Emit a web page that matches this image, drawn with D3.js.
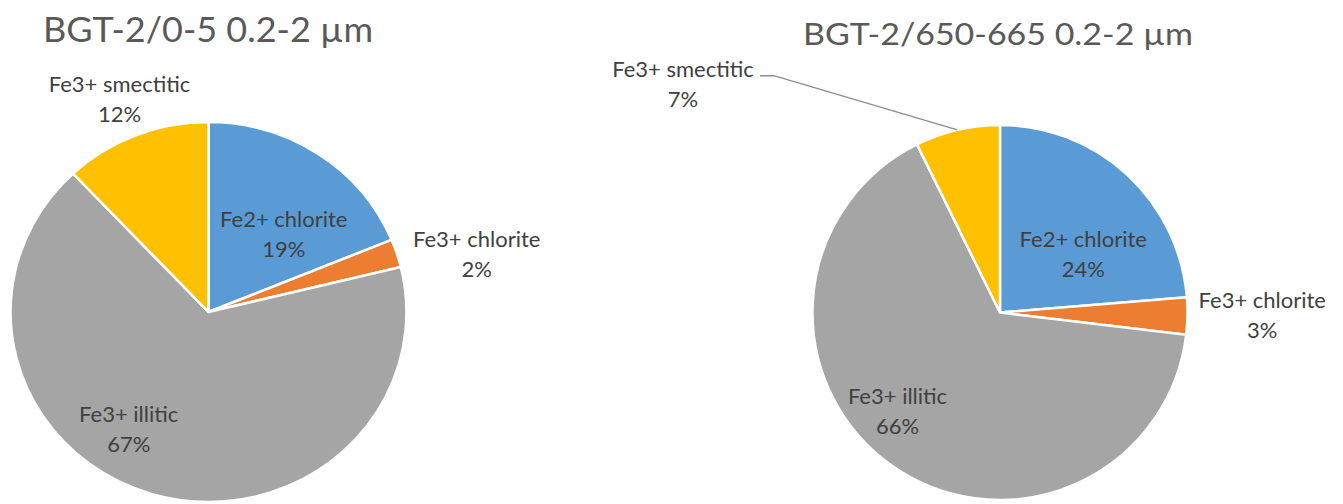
<!DOCTYPE html>
<html>
<head>
  <meta charset="utf-8">
  <title>Fe species pies</title>
  <script src="https://d3js.org/d3.v7.min.js"></script>
  <style>
    body { margin: 0; background: #fff; }
    svg { display: block; font-family: Lato, "Open Sans", sans-serif; }
    .title { fill: #595959; }
    .label { fill: #404040; font-size: 22px; }
    .leader { fill: none; stroke: #8c8c8c; stroke-width: 1.3px; }
  </style>
</head>
<body>
<div id="chart"></div>
<script>
// categories, same order in both pies (clockwise from 12 o'clock)
var categories = ["Fe2+ chlorite", "Fe3+ chlorite", "Fe3+ illitic", "Fe3+ smectitic"];
var colors = ["#5B9BD5", "#ED7D31", "#A5A5A5", "#FFC000"];

var titles = ["BGT-2/0-5 0.2-2 \u00b5m", "BGT-2/650-665 0.2-2 \u00b5m"];

// shares (%)
var values_0_5 = [18.8, 2.4, 66.8, 12.0];
var values_650_665 = [23.7, 3.2, 65.8, 7.3];

var width = 1343, height = 504;

var svg = d3.select("#chart").append("svg")
    .attr("width", width)
    .attr("height", height);

// layout of each panel; label placement is polar: turn (deg) off the slice middle, distance in radii
var panels = [
  { values: values_0_5, cx: 208.5, cy: 312, r: 190, sx: 1.042,
    title: { x: 43, y: 42, size: 35, len: 330 },
    turn: [12, 7, 15, -1], dist: [0.53, 1.38, 0.77, 1.17], leader: [false, false, false, false] },
  { values: values_650_665, cx: 1000, cy: 312.5, r: 187.5, sx: 1,
    title: { x: 803, y: 45, size: 30, len: 390 },
    turn: [16, 1.3, 8.5, -42], dist: [0.52, 1.40, 0.79, 2.06], leader: [false, false, false, true] }
];

var pie = d3.pie().sort(null).value(function(d) { return d; });

panels.forEach(function(p, pi) {
  var total = d3.sum(p.values);
  var arcs = pie(p.values);
  var arc = d3.arc().innerRadius(0).outerRadius(p.r);

  svg.append("text")
    .attr("class", "title")
    .attr("x", p.title.x)
    .attr("y", p.title.y)
    .attr("font-size", p.title.size)
    .attr("textLength", p.title.len)
    .attr("lengthAdjust", "spacingAndGlyphs")
    .text(titles[pi]);

  var g = svg.append("g")
    .attr("transform", "translate(" + p.cx + "," + p.cy + ") scale(" + p.sx + ",1)");

  g.selectAll("path")
    .data(arcs)
    .enter().append("path")
      .attr("d", arc)
      .attr("fill", function(d, i) { return colors[i]; })
      .attr("stroke", "#fff")
      .attr("stroke-width", 2.5)
      .attr("stroke-linejoin", "round");

  // polar -> screen, angle clockwise from top
  function pt(a, rr) {
    return [p.cx + Math.sin(a) * rr * p.sx, p.cy - Math.cos(a) * rr];
  }

  arcs.forEach(function(d, i) {
    var mid = (d.startAngle + d.endAngle) / 2;
    var a = mid + p.turn[i] * Math.PI / 180;
    var c = pt(a, p.dist[i] * p.r);
    var t = svg.append("text")
      .attr("class", "label")
      .attr("text-anchor", "middle");
    t.append("tspan").attr("x", c[0]).attr("y", c[1] - 15).text(categories[i]);
    t.append("tspan").attr("x", c[0]).attr("y", c[1] + 15)
      .text(Math.round(d.data / total * 100) + "%");

    if (p.leader[i]) {
      var bb = t.node().getBBox();
      var start = [c[0] + bb.width / 2 + 6, c[1] - 15 - 1];
      var elbow = [start[0] + 14, start[1]];
      var end = pt(mid, p.r);
      svg.append("polyline")
        .attr("class", "leader")
        .attr("points", [start, elbow, end].map(function(q) { return q.join(","); }).join(" "));
    }
  });
});
</script>
</body>
</html>
